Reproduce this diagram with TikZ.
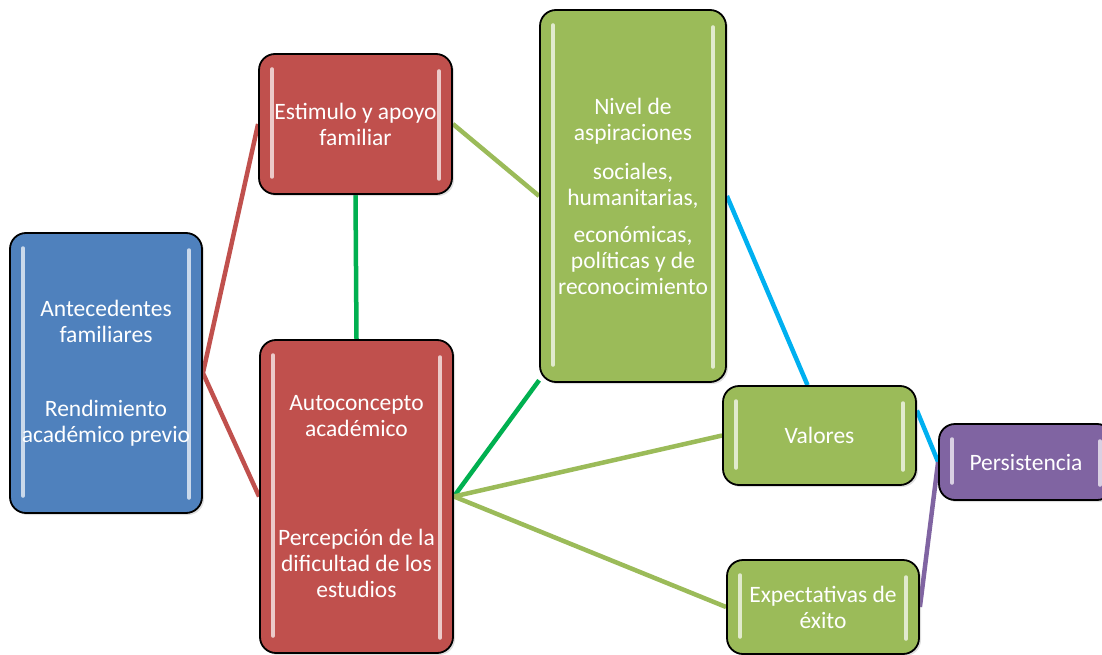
\documentclass[tikz,border=0pt]{standalone}
\usepackage{fontspec}
\setmainfont{Carlito}
\usetikzlibrary{backgrounds,shadows,calc}

\definecolor{cblue}{HTML}{4F81BD}
\definecolor{cred}{HTML}{C0504D}
\definecolor{cgreen}{HTML}{9BBB59}
\definecolor{cpurple}{HTML}{8064A2}
\definecolor{lkgreen}{HTML}{00B050}
\definecolor{lkcyan}{HTML}{00B0F0}

\tikzset{
  box/.style={draw=black, line width=1.8pt, rounded corners=16pt, fill=#1,
    text=white, align=center, inner sep=0pt,
    font=\fontsize{23.5}{26}\selectfont,
    drop shadow={shadow xshift=2pt, shadow yshift=-2pt, opacity=0.25},
    path picture={
      \draw[white, opacity=0.7, line width=3.5pt, line cap=round]
        ([xshift=13pt,yshift=-15pt]path picture bounding box.north west) --
        ([xshift=13pt,yshift=17pt]path picture bounding box.south west);
      \draw[white, opacity=0.7, line width=3.5pt, line cap=round]
        ([xshift=-13pt,yshift=-17pt]path picture bounding box.north east) --
        ([xshift=-13pt,yshift=15pt]path picture bounding box.south east);
    }},
  link/.style={line width=4.5pt, draw=#1}
}

\begin{document}
\begin{tikzpicture}[x=1pt, y=-1pt]
\useasboundingbox (0,0) rectangle (1102,655);
\clip (0,0) rectangle (1102,655);

% boxes
\node[box=cblue, minimum width=192pt, minimum height=280pt] (ant) at (106,373)
  {Antecedentes\\familiares\\[48pt]Rendimiento\\académico previo};
\node[box=cred, minimum width=193pt, minimum height=140pt] (est) at (355.5,124)
  {Estimulo y apoyo\\familiar};
\node[box=cred, minimum width=193pt, minimum height=313pt] (aut) at (356.5,496.5)
  {Autoconcepto\\académico\\[83pt]Percepción de la\\dificultad de los\\estudios};
\node[box=cgreen, minimum width=186pt, minimum height=372pt] (niv) at (633,196)
  {Nivel de\\aspiraciones\\[13pt]sociales,\\humanitarias,\\[11pt]económicas,\\políticas y de\\reconocimiento};
\node[box=cgreen, minimum width=193pt, minimum height=99pt] (val) at (819.5,435.5)
  {Valores};
\node[box=cgreen, minimum width=192pt, minimum height=94pt] (exp) at (823,607)
  {Expectativas de\\éxito};
\node[box=cpurple, minimum width=174pt, minimum height=76pt] (per) at (1026,462)
  {Persistencia};

% connectors
\begin{scope}[on background layer]
  \draw[link=cred] (est.west) -- (ant.east) -- (aut.west);
  \draw[link=lkgreen] (est.south) -- (aut.north);
  \draw[link=cgreen] (est.east) -- (niv.west);
  \draw[link=lkgreen] (aut.east) -- (niv.243);
  \draw[link=cgreen] (aut.east) -- (val.west);
  \draw[link=cgreen] (aut.east) -- (exp.west);
  \draw[link=lkcyan] (niv.east) -- ([xshift=-12pt]val.north);
  \draw[link=lkcyan] ([yshift=25pt]val.east) -- (per.west);
  \draw[link=cpurple] (exp.east) -- (per.west);
\end{scope}
\end{tikzpicture}
\end{document}
